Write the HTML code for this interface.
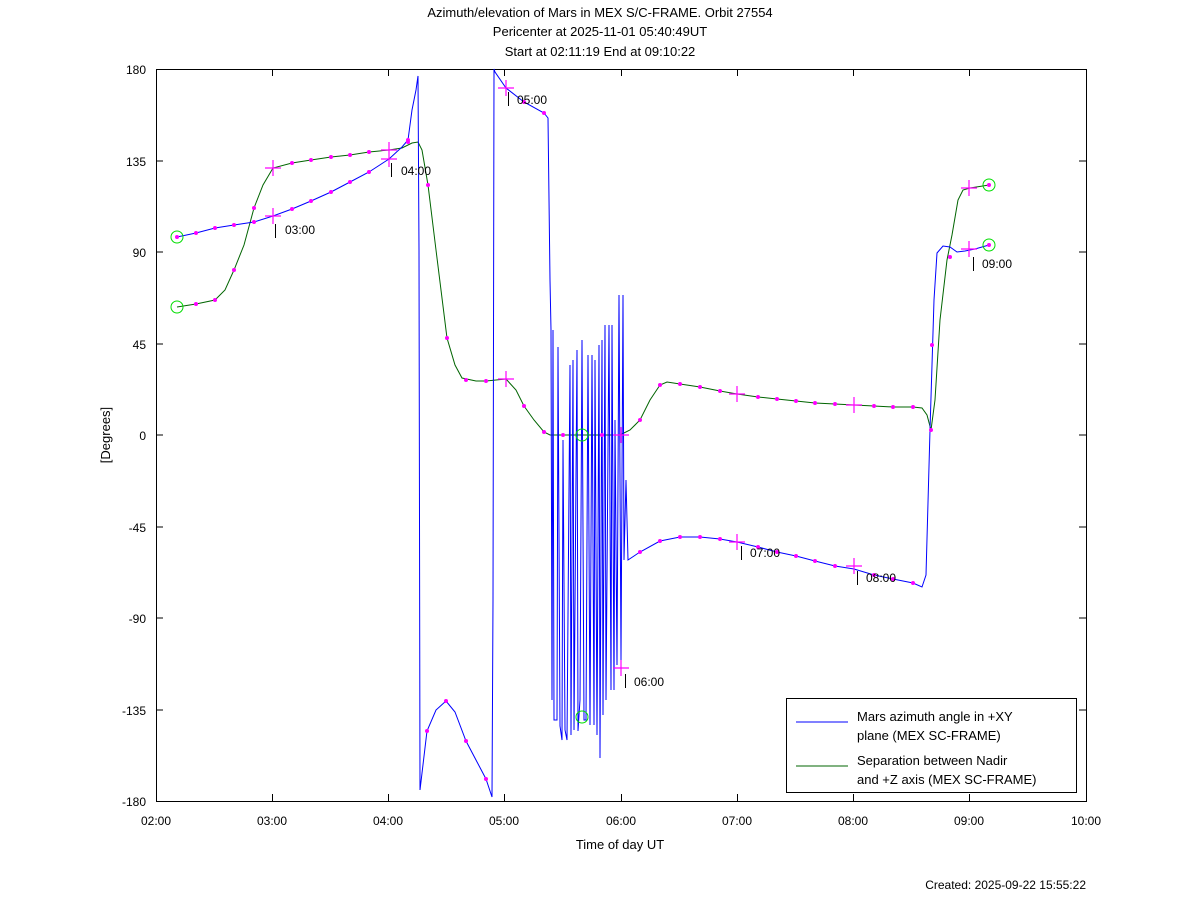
<!DOCTYPE html><html><head><style>body{margin:0;background:#fff}svg{display:block;font-family:"Liberation Sans",sans-serif}</style></head><body>
<svg width="1200" height="901" viewBox="0 0 1200 901">
<g font-size="13" fill="#000" text-anchor="middle">
<text x="600" y="17">Azimuth/elevation of Mars in MEX S/C-FRAME.  Orbit 27554</text>
<text x="600" y="36">Pericenter at 2025-11-01 05:40:49UT</text>
<text x="600" y="56">Start at 02:11:19 End at 09:10:22</text>
<text x="620" y="849">Time of day UT</text>
<text x="110" y="435" transform="rotate(-90 110 435)">[Degrees]</text>
</g>
<text x="1086" y="889" font-size="12" text-anchor="end">Created: 2025-09-22 15:55:22</text>
<rect x="156.5" y="69.5" width="930" height="732" fill="none" stroke="#000"/>
<g stroke="#000">
<path d="M156 161h7M156 252h7M156 344h7M156 435h7M156 527h7M156 618h7M156 710h7M1086 161h-7M1086 252h-7M1086 344h-7M1086 435h-7M1086 527h-7M1086 618h-7M1086 710h-7"/>
<path d="M272.5 69v7M388.5 69v7M504.5 69v7M621.5 69v7M737.5 69v7M853.5 69v7M969.5 69v7M272.5 801v-7M388.5 801v-7M504.5 801v-7M621.5 801v-7M737.5 801v-7M853.5 801v-7M969.5 801v-7"/>
</g>
<g font-size="12" text-anchor="end">
<text x="146" y="74">180</text><text x="146" y="166">135</text><text x="146" y="257">90</text><text x="146" y="349">45</text><text x="146" y="440">0</text><text x="146" y="532">-45</text><text x="146" y="623">-90</text><text x="146" y="715">-135</text><text x="146" y="806">-180</text>
</g>
<g font-size="12" text-anchor="middle">
<text x="156" y="825">02:00</text><text x="272" y="825">03:00</text><text x="388" y="825">04:00</text><text x="504" y="825">05:00</text><text x="621" y="825">06:00</text><text x="737" y="825">07:00</text><text x="853" y="825">08:00</text><text x="969" y="825">09:00</text><text x="1086" y="825">10:00</text>
</g>
<polyline fill="none" stroke="#006400" stroke-width="1" points="177,307 196,304 215,300 225,290 234,270 244,245 254,208 263,185 273,168 292,163 311,160 331,157 350,155 369,152 389,150 402,148 412,143 418,142 422,150 428,185 436,250 447,338 455,365 462,378 476,381 486,381 506,379 516,390 524,406 534,420 544,432 550,435 620,435 630,430 640,420 650,400 660,385 667,382 680,384 700,387 720,391 737,394 758,397 777,399 796,401 815,403 835,404 854,405 874,406 893,407 913,407 922,408 927,415 931,430 935,400 940,320 947,260 952,235 958,200 963,190 970,188 989,185"/>
<polyline fill="none" stroke="#0000ff" stroke-width="1" points="177,237 196,233 215,228 234,225 254,222 273,216 292,209 311,201 331,192 350,182 369,172 389,159 402,147 408,140 412,110 416,90 418,76 419,250 420,790 427,731 436,710 446,701 455,712 466,741 476,760 486,779 492,797 493,600 494,69 495,72 506,88 524,102 544,113 548,118 550,280 551,330 552,700 553,330 554,720 557,720 558,347 560,726 562,740 563,440 565,730 567,740 570,365 571,735 573,360 574,730 577,350 578,731 580,700 582,340 584,720 586,720 588,355 590,725 592,355 594,725 595,360 597,735 599,345 600,758 602,340 603,715 605,325 606,700 609,325 611,690 612,325 614,690 615,420 617,665 619,295 621,660 623,295 624,560 626,480 628,560 640,552 660,541 680,537 700,537 720,539 737,542 758,547 777,552 796,556 815,561 835,566 854,569 874,575 893,579 913,583 922,587 926,575 930,430 934,300 937,253 943,246 950,247 957,252 965,251 975,249 989,245"/>
<g fill="#ff00ff">
<circle cx="177" cy="237" r="2"/><circle cx="196" cy="233" r="2"/><circle cx="215" cy="228" r="2"/><circle cx="234" cy="225" r="2"/><circle cx="254" cy="222" r="2"/><circle cx="292" cy="209" r="2"/><circle cx="311" cy="201" r="2"/><circle cx="331" cy="192" r="2"/><circle cx="350" cy="182" r="2"/><circle cx="369" cy="172" r="2"/><circle cx="408" cy="140" r="2"/><circle cx="427" cy="731" r="2"/><circle cx="446" cy="701" r="2"/><circle cx="466" cy="741" r="2"/><circle cx="486" cy="779" r="2"/><circle cx="524" cy="102" r="2"/><circle cx="544" cy="113" r="2"/><circle cx="640" cy="552" r="2"/><circle cx="660" cy="541" r="2"/><circle cx="680" cy="537" r="2"/><circle cx="700" cy="537" r="2"/><circle cx="720" cy="539" r="2"/><circle cx="758" cy="547" r="2"/><circle cx="777" cy="552" r="2"/><circle cx="796" cy="556" r="2"/><circle cx="815" cy="561" r="2"/><circle cx="835" cy="566" r="2"/><circle cx="874" cy="575" r="2"/><circle cx="893" cy="579" r="2"/><circle cx="913" cy="583" r="2"/><circle cx="950" cy="257" r="2"/><circle cx="932" cy="345" r="2"/>
<circle cx="196" cy="304" r="2"/><circle cx="215" cy="300" r="2"/><circle cx="234" cy="270" r="2"/><circle cx="254" cy="208" r="2"/><circle cx="292" cy="163" r="2"/><circle cx="311" cy="160" r="2"/><circle cx="331" cy="157" r="2"/><circle cx="350" cy="155" r="2"/><circle cx="369" cy="152" r="2"/><circle cx="408" cy="142" r="2"/><circle cx="428" cy="185" r="2"/><circle cx="447" cy="338" r="2"/><circle cx="466" cy="380" r="2"/><circle cx="486" cy="381" r="2"/><circle cx="524" cy="406" r="2"/><circle cx="544" cy="432" r="2"/><circle cx="563" cy="435" r="2"/><circle cx="602" cy="435" r="2"/><circle cx="640" cy="420" r="2"/><circle cx="660" cy="385" r="2"/><circle cx="680" cy="384" r="2"/><circle cx="700" cy="387" r="2"/><circle cx="720" cy="391" r="2"/><circle cx="758" cy="397" r="2"/><circle cx="777" cy="399" r="2"/><circle cx="796" cy="401" r="2"/><circle cx="815" cy="403" r="2"/><circle cx="835" cy="404" r="2"/><circle cx="874" cy="406" r="2"/><circle cx="893" cy="407" r="2"/><circle cx="913" cy="407" r="2"/><circle cx="931" cy="430" r="2"/><circle cx="989" cy="185" r="2"/><circle cx="989" cy="245" r="2"/>
</g>
<g stroke="#ff00ff" stroke-width="1.2">
<path d="M265 216h16M273 208v16M265 168h16M273 160v16M381 159h16M389 151v16M381 150h16M389 142v16M498 88h16M506 80v16M498 379h16M506 371v16M613 668h16M621 660v16M613 435h16M621 427v16M729 542h16M737 534v16M729 394h16M737 386v16M846 566h16M854 558v16M846 405h16M854 397v16M961 249h16M969 241v16M961 188h16M969 180v16"/>
</g>
<g fill="none" stroke="#00dd00">
<circle cx="177" cy="237" r="6"/><circle cx="177" cy="307" r="6"/><circle cx="989" cy="185" r="6"/><circle cx="989" cy="245" r="6"/><circle cx="582" cy="435" r="6"/><circle cx="582" cy="717" r="6"/>
</g>
<g stroke="#000"><path d="M275.5 224v14M391.5 163v14M508.5 92v14M625.5 674v14M741.5 546v14M857.5 571v14M973.5 257v14"/></g>
<g font-size="12">
<text x="285" y="234">03:00</text><text x="401" y="175">04:00</text><text x="517" y="104">05:00</text><text x="634" y="686">06:00</text><text x="750" y="557">07:00</text><text x="866" y="582">08:00</text><text x="982" y="268">09:00</text>
</g>
<rect x="786.5" y="698.5" width="290" height="94" fill="#fff" stroke="#000"/>
<path d="M796 722h52" stroke="#0000ff"/><path d="M796 766h52" stroke="#006400"/>
<g font-size="13"><text x="857" y="721">Mars azimuth angle in +XY</text><text x="857" y="740">plane (MEX SC-FRAME)</text><text x="857" y="765">Separation between Nadir</text><text x="857" y="784">and +Z axis (MEX SC-FRAME)</text></g>
</svg></body></html>
